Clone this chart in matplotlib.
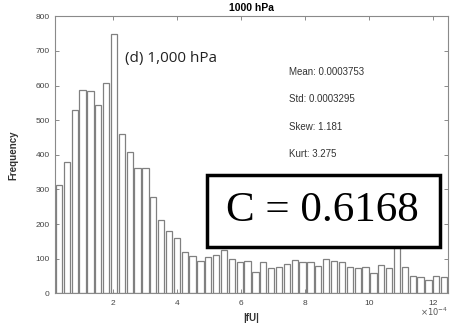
import numpy as np
import matplotlib
matplotlib.use("Agg")
import matplotlib.pyplot as plt
from matplotlib.patches import Rectangle

# histogram of |fU| at 1000 hPa, x in units of 1e-4
x_lo = 0.18
x_hi = 12.47
counts = [314, 378, 529, 588, 583, 545, 606, 748, 459, 408,
          362, 362, 278, 212, 179, 159, 118, 108, 93, 106,
          111, 126, 99, 89, 93, 62, 91, 72, 75, 86,
          96, 89, 89, 79, 98, 93, 91, 77, 72, 76,
          60, 81, 72, 250, 75, 50, 48, 38, 50, 46]
x_ticks = [2, 4, 6, 8, 10, 12]
y_ticks = [0, 100, 200, 300, 400, 500, 600, 700, 800]
stats = ["Mean: 0.0003753", "Std: 0.0003295", "Skew: 1.181", "Kurt: 3.275"]
panel_label = "(d) 1,000 hPa"
corr_label = "C = 0.6168"

edges = np.linspace(x_lo, x_hi, len(counts) + 1)
centers = (edges[:-1] + edges[1:]) / 2
bw = edges[1] - edges[0]

fig = plt.figure(figsize=(4.6, 3.23), dpi=100)
ax = fig.add_axes([0.1196, 0.092, 0.8544, 0.8575])

ax.bar(centers, counts, width=0.8 * bw, color="white", edgecolor="#808080", linewidth=0.9)

ax.set_xlim(x_lo, x_hi)
ax.set_ylim(0, 800)
ax.set_xticks(x_ticks)
ax.set_yticks(y_ticks)
ax.tick_params(direction="in", length=3, width=0.6, color="#777777", labelsize=6,
               labelcolor="#444444", top=True, right=True)
ax.tick_params(axis="x", pad=5)
ax.tick_params(axis="y", pad=4)
for sp in ax.spines.values():
    sp.set_color("#8a8a8a")
    sp.set_linewidth(0.8)
for lab in ax.get_xticklabels() + ax.get_yticklabels():
    lab.set_family("Liberation Sans")

ax.set_title("1000 hPa", fontsize=7.5, fontweight="bold", family="Liberation Sans", pad=4)
ax.set_xlabel("|fU|", fontsize=7, fontweight="bold", family="Liberation Sans", color="#333333", labelpad=4)
ax.set_ylabel("Frequency", fontsize=7, fontweight="bold", family="Liberation Sans", color="#333333", labelpad=12)
ax.text(1.0, -0.045, r"$\times10^{-4}$", transform=ax.transAxes, ha="right", va="top",
        fontsize=6, color="#555555")

ax.text(0.178, 0.849, panel_label, transform=ax.transAxes, fontsize=11, family="Open Sans",
        color="#222222", va="center", ha="left")

for i, s in enumerate(stats):
    ax.text(0.595, 0.80 - i * 0.099, s, transform=ax.transAxes, fontsize=7,
            family="Liberation Sans", color="#333333", va="center", ha="left")

ax.add_patch(Rectangle((0.386, 0.166), 0.594, 0.261, transform=ax.transAxes,
                       facecolor="white", edgecolor="black", linewidth=2.5, zorder=5))
ax.text(0.68, 0.2965, corr_label, transform=ax.transAxes, fontsize=31,
        family="Liberation Serif", color="black", va="center", ha="center", zorder=6)

fig.savefig("out.png", dpi=100)
